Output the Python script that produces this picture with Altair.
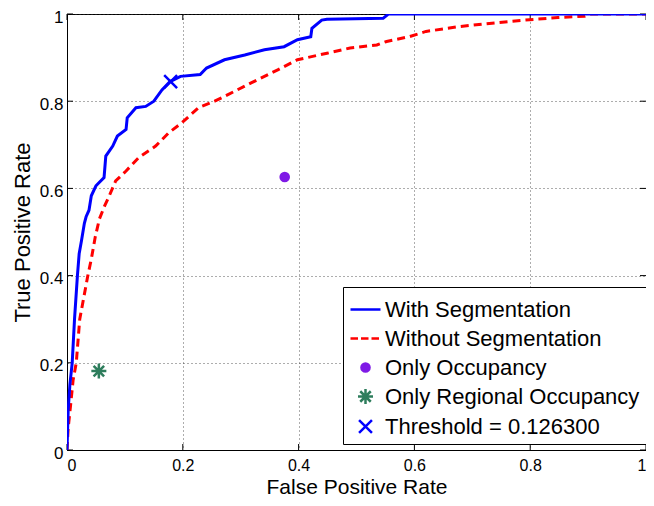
import altair as alt
import pandas as pd

# ---- data ----
fpr_with = [0.0, 0.002, 0.005, 0.009, 0.013, 0.018, 0.021, 0.025, 0.030, 0.033, 0.038, 0.042,
            0.050, 0.064, 0.067, 0.079, 0.087, 0.102, 0.104, 0.119, 0.136, 0.150, 0.164, 0.178,
            0.196, 0.230, 0.241, 0.272, 0.307, 0.341, 0.375, 0.398, 0.421, 0.423, 0.440, 0.449,
            0.546, 0.555, 1.0]
tpr_with = [0.0, 0.09, 0.15, 0.20, 0.30, 0.40, 0.45, 0.48, 0.52, 0.535, 0.55, 0.583,
            0.606, 0.625, 0.674, 0.697, 0.720, 0.735, 0.762, 0.785, 0.788, 0.800, 0.826, 0.845,
            0.857, 0.861, 0.876, 0.895, 0.906, 0.918, 0.925, 0.941, 0.948, 0.967, 0.986, 0.988,
            0.990, 1.0, 1.0]

fpr_without = [0.0, 0.002, 0.006, 0.0105, 0.016, 0.022, 0.029, 0.036, 0.042, 0.049, 0.056, 0.065,
               0.073, 0.084, 0.102, 0.124, 0.153, 0.176, 0.198, 0.227, 0.255, 0.278, 0.318, 0.364,
               0.398, 0.449, 0.489, 0.535, 0.552, 0.591, 0.620, 0.677, 0.734, 0.791, 0.848, 0.894,
               0.905, 1.0]
tpr_without = [0.0, 0.05, 0.10, 0.16, 0.20, 0.30, 0.35, 0.40, 0.438, 0.49, 0.53, 0.56,
               0.583, 0.617, 0.640, 0.671, 0.697, 0.728, 0.750, 0.785, 0.800, 0.815, 0.842, 0.872,
               0.895, 0.910, 0.922, 0.929, 0.937, 0.948, 0.960, 0.971, 0.979, 0.986, 0.992, 0.995,
               1.0, 1.0]

point_names = ["Only Occupancy", "Only Regional Occupancy", "Threshold = 0.126300"]
point_fpr = [0.376, 0.055, 0.179]
point_tpr = [0.626, 0.181, 0.845]

legend_names = ["With Segmentation", "Without Segmentation", "Only Occupancy",
                "Only Regional Occupancy", "Threshold = 0.126300"]
legend_strokes = ["#0000FF", "#FF0000", "#7F1AE6", "#2E7D5C", "#0000FF"]
legend_fills = ["transparent", "transparent", "#7F1AE6", "transparent", "transparent"]
legend_shapes = [
    "M-1,0H1",
    "M-1,0H-0.5M-0.3,0H0.2M0.4,0H0.9",
    "M0.27,0A0.27,0.27,0,1,1,-0.27,0A0.27,0.27,0,1,1,0.27,0Z",
    "M-0.5,0H0.5M0,-0.5V0.5M-0.35,-0.35L0.35,0.35M-0.35,0.35L0.35,-0.35",
    "M-0.43,-0.43L0.43,0.43M-0.43,0.43L0.43,-0.43",
]

tick_values = [0, 0.2, 0.4, 0.6, 0.8, 1.0]

FONT = "Liberation Sans"

# ---- tables ----
with_df = pd.DataFrame({"fpr": fpr_with, "tpr": tpr_with})
without_df = pd.DataFrame({"fpr": fpr_without, "tpr": tpr_without})
pts_df = pd.DataFrame({"series": point_names, "fpr": point_fpr, "tpr": point_tpr})
ticks_df = pd.DataFrame({"t": tick_values})

xscale = alt.Scale(domain=[0, 1], nice=False, zero=False)
yscale = alt.Scale(domain=[0, 1], nice=False, zero=False)

xaxis = alt.Axis(values=tick_values, format="~g", title="False Positive Rate",
                 grid=True, gridDash=[1, 3], gridColor="#333333", gridOpacity=0.8,
                 ticks=False, tickSize=0, labelPadding=7, labelFontSize=16,
                 titleFontSize=21, titleBaseline="alphabetic", titleY=43,
                 domainColor="black",
                 labelColor="black", titleColor="black", titleFontWeight="normal",
                 labelFont=FONT, titleFont=FONT)
yaxis = alt.Axis(values=tick_values, format="~g", title="True Positive Rate",
                 grid=True, gridDash=[1, 3], gridColor="#333333", gridOpacity=0.8,
                 ticks=False, tickSize=0, labelPadding=4, labelFontSize=17, labelOffset=3,
                 titleFontSize=22, titleBaseline="alphabetic", titleX=-38,
                 domainColor="black",
                 labelColor="black", titleColor="black", titleFontWeight="normal",
                 labelFont=FONT, titleFont=FONT)

x_enc = alt.X("fpr:Q", scale=xscale, axis=xaxis)
y_enc = alt.Y("tpr:Q", scale=yscale, axis=yaxis)

line_with = alt.Chart(with_df).mark_line(color="#0000FF", strokeWidth=3, clip=True).encode(
    x=x_enc, y=y_enc, order=alt.Order("fpr:Q"))
line_without = alt.Chart(without_df).mark_line(
    color="#FF0000", strokeWidth=3, strokeDash=[8, 5], clip=True).encode(
    x=x_enc, y=y_enc, order=alt.Order("fpr:Q"))

legend = alt.Legend(orient="none", legendX=276, legendY=273, title=None,
                    strokeColor="black", fillColor="white", padding=6, rowPadding=1,
                    symbolSize=900, symbolStrokeWidth=2.5, labelFontSize=22,
                    labelFont=FONT, labelColor="black", labelOffset=3,
                    labelLimit=400, cornerRadius=0)

points = alt.Chart(pts_df).mark_point(size=900, strokeWidth=2.5, opacity=1, filled=False).encode(
    x=x_enc, y=y_enc,
    stroke=alt.Stroke("series:N", scale=alt.Scale(domain=legend_names, range=legend_strokes),
                      legend=legend),
    fill=alt.Fill("series:N", scale=alt.Scale(domain=legend_names, range=legend_fills),
                  legend=legend),
    shape=alt.Shape("series:N", scale=alt.Scale(domain=legend_names, range=legend_shapes),
                    legend=legend),
)

# inward ticks on the four sides of the box
tx = alt.X("t:Q", scale=xscale, axis=xaxis)
ty = alt.Y("t:Q", scale=yscale, axis=yaxis)
tick_bottom = alt.Chart(ticks_df).mark_tick(orient="vertical", size=6, thickness=1,
                                            color="black", opacity=1, yOffset=-3).encode(
    x=tx, y=alt.datum(0, scale=yscale))
tick_top = alt.Chart(ticks_df).mark_tick(orient="vertical", size=6, thickness=1,
                                         color="black", opacity=1, yOffset=3).encode(
    x=tx, y=alt.datum(1, scale=yscale))
tick_left = alt.Chart(ticks_df).mark_tick(orient="horizontal", size=6, thickness=1,
                                          color="black", opacity=1, xOffset=3).encode(
    y=ty, x=alt.datum(0, scale=xscale))
tick_right = alt.Chart(ticks_df).mark_tick(orient="horizontal", size=6, thickness=1,
                                           color="black", opacity=1, xOffset=-3).encode(
    y=ty, x=alt.datum(1, scale=xscale))

chart = alt.layer(
    tick_bottom, tick_top, tick_left, tick_right, line_without, line_with, points
).properties(
    width=579, height=436,
    autosize=alt.AutoSizeParams(type="none"),
    padding={"left": 59, "top": 6, "right": 0, "bottom": 48},
    background="white",
).configure_view(
    stroke="black", strokeWidth=1
)

chart.save("out.html", embed_options={"renderer": "svg", "actions": False})
